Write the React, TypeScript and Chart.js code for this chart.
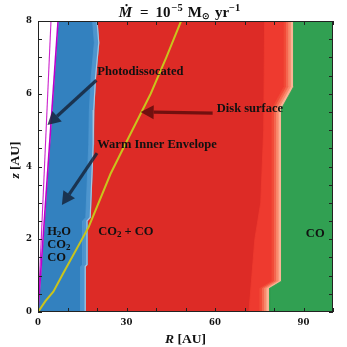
import React, { useEffect, useRef } from "react";
import { Chart, registerables } from "chart.js";

Chart.register(...registerables);

// ---- axes ----
const rMin = 0;
const rMax = 100;
const zMin = 0;
const zMax = 8;
const rTickLabels = [0, 30, 60, 90];
const zTickLabels = [0, 2, 4, 6, 8];
const rMinorTicks = [0, 10, 20, 30, 40, 50, 60, 70, 80, 90, 100];
const zMinorTicks = [0, 0.5, 1, 1.5, 2, 2.5, 3, 3.5, 4, 4.5, 5, 5.5, 6, 6.5, 7, 7.5, 8];

// ---- disk surface (yellow) ----
const surfaceR = [0, 2.5, 5.2, 8.6, 17.2, 24.6, 30.3, 38.2, 43.5, 48.5];
const surfaceZ = [0, 0.3, 0.56, 1.07, 2.34, 3.8, 4.73, 6.0, 7.0, 8];

// ---- magenta cavity lines ----
const innerLineR = [0, 4.4];
const innerLineZ = [0, 8];
const outerLineR = [0, 6.8];
const outerLineZ = [0, 8];

// ---- blue (H2O, CO2, CO ice) outer edge, top to bottom ----
const blueEdgeR = [20.0, 20.6, 19.5, 18.9, 18.7, 18.3, 17.7, 16.6, 16.6, 16.0, 16.0];
const blueEdgeZ = [8, 7.4, 6.45, 5.55, 4.6, 3.8, 2.6, 2.5, 1.3, 1.25, 0];

// ---- lighter red band, inner edge, top to bottom ----
const lightRedR = [76.8, 76.5, 75.5, 73.5, 72.5, 71.5];
const lightRedZ = [8, 5, 3, 2, 1, 0];

// ---- green (CO ice only) inner edge, top to bottom ----
const greenEdgeR = [86.7, 86.7, 82.6, 82.6, 78.5, 78.5];
const greenEdgeZ = [8, 6.2, 5.6, 0.85, 0.65, 0];

// ---- annotation arrows (start -> tip) ----
const photoArrowR = [19.8, 3.2];
const photoArrowZ = [6.37, 5.14];
const warmArrowR = [20.0, 8.1];
const warmArrowZ = [4.37, 2.94];
const diskArrowR = [59.2, 34.8];
const diskArrowZ = [5.47, 5.5];

const SERIF = "'Liberation Serif', 'Times New Roman', serif";
const TICK_SERIF = "'DejaVu Serif', serif";

const pts = (rs: number[], zs: number[]) => rs.map((r, i) => ({ x: r, y: zs[i] }));

type Seg = { t: string; size: number; italic?: boolean; dy?: number; gap?: number };

function App() {
  const ref = useRef<HTMLCanvasElement | null>(null);

  useEffect(() => {
    const canvas = ref.current;
    if (!canvas) return;

    const layers: any[] = [];
    const poly = (data: any[], color: string) =>
      layers.push({
        data,
        showLine: true,
        fill: "shape",
        backgroundColor: color,
        borderColor: color,
        borderWidth: 0.8,
        pointRadius: 0,
        pointHoverRadius: 0,
        tension: 0,
      });
    const line = (data: any[], color: string, width: number) =>
      layers.push({
        data,
        showLine: true,
        fill: false,
        backgroundColor: color,
        borderColor: color,
        borderWidth: width,
        pointRadius: 0,
        pointHoverRadius: 0,
        tension: 0,
      });

    const rightCap = [
      { x: rMax, y: zMin },
      { x: rMax, y: zMax },
    ];

    // background red (CO2 + CO ice)
    poly(
      [
        { x: rMin, y: zMin },
        { x: rMax, y: zMin },
        { x: rMax, y: zMax },
        { x: rMin, y: zMax },
      ],
      "#dd2b26"
    );
    // lighter red band
    poly([...pts(lightRedR, lightRedZ), ...rightCap], "#ee3a2f");
    // soft transition towards CO-only region
    const fade = [
      [3.2, "#f14b38"],
      [2.4, "#f56850"],
      [1.6, "#f98b6d"],
      [0.8, "#fcb396"],
    ] as const;
    fade.forEach(([d, c]) =>
      poly([...pts(greenEdgeR.map((r) => r - d), greenEdgeZ), ...rightCap], c)
    );
    // green CO region
    poly([...pts(greenEdgeR, greenEdgeZ), ...rightCap], "#31a052");
    // blue region
    poly([...pts(outerLineR, outerLineZ), ...pts(blueEdgeR, blueEdgeZ)], "#3381bf");
    // lighter blue strip at the edge
    poly(
      [
        ...pts(blueEdgeR.map((r) => r - 1.5), blueEdgeZ),
        ...pts([...blueEdgeR].reverse(), [...blueEdgeZ].reverse()),
      ],
      "#4d95ce"
    );
    line(pts(blueEdgeR, blueEdgeZ), "#a9c5de", 1.2);
    // white cavity
    poly(
      [
        { x: rMin, y: zMin },
        { x: outerLineR[1], y: outerLineZ[1] },
        { x: rMin, y: zMax },
      ],
      "#ffffff"
    );
    line(pts(innerLineR, innerLineZ), "#cc22cc", 1.1);
    line(pts(outerLineR, outerLineZ), "#bb00cc", 1.6);
    // disk surface
    line(pts(surfaceR, surfaceZ), "#c9c41c", 2);

    const n = layers.length;
    layers.forEach((l, i) => (l.order = n - i));

    const drawRich = (
      ctx: CanvasRenderingContext2D,
      segs: Seg[],
      x: number,
      y: number,
      align: "left" | "center"
    ) => {
      let total = 0;
      const widths = segs.map((s) => {
        ctx.font = `${s.italic ? "italic " : ""}bold ${s.size}px ${SERIF}`;
        const w = ctx.measureText(s.t).width;
        total += w + (s.gap || 0);
        return w;
      });
      let cx = align === "center" ? x - total / 2 : x;
      segs.forEach((s, i) => {
        cx += s.gap || 0;
        ctx.font = `${s.italic ? "italic " : ""}bold ${s.size}px ${SERIF}`;
        ctx.fillText(s.t, cx, y + (s.dy || 0));
        cx += widths[i];
      });
    };

    const decor = {
      id: "decor",
      afterDatasetsDraw(chart: any) {
        const { ctx, chartArea: a, scales } = chart;
        const xs = scales.x;
        const ys = scales.y;
        const px = (r: number) => xs.getPixelForValue(r);
        const py = (z: number) => ys.getPixelForValue(z);
        ctx.save();

        // arrows
        const arrow = (rs: number[], zs: number[], color: string) => {
          const x0 = px(rs[0]);
          const y0 = py(zs[0]);
          const x1 = px(rs[1]);
          const y1 = py(zs[1]);
          const ang = Math.atan2(y1 - y0, x1 - x0);
          const hl = 13;
          const hw = 7;
          const bx = x1 - hl * Math.cos(ang);
          const by = y1 - hl * Math.sin(ang);
          ctx.strokeStyle = color;
          ctx.fillStyle = color;
          ctx.lineWidth = 3.2;
          ctx.lineCap = "butt";
          ctx.beginPath();
          ctx.moveTo(x0, y0);
          ctx.lineTo(bx, by);
          ctx.stroke();
          ctx.beginPath();
          ctx.moveTo(x1, y1);
          ctx.lineTo(bx + hw * Math.sin(ang), by - hw * Math.cos(ang));
          ctx.lineTo(bx - hw * Math.sin(ang), by + hw * Math.cos(ang));
          ctx.closePath();
          ctx.fill();
        };
        arrow(photoArrowR, photoArrowZ, "rgba(22,38,60,0.85)");
        arrow(warmArrowR, warmArrowZ, "rgba(22,38,60,0.85)");
        arrow(diskArrowR, diskArrowZ, "rgba(95,12,12,0.85)");

        // labels
        ctx.fillStyle = "#111111";
        ctx.textBaseline = "middle";
        ctx.textAlign = "left";
        const big = 12.5;
        const sub = 9;
        drawRich(ctx, [{ t: "Photodissocated", size: big }], px(20.1), py(6.6), "left");
        drawRich(ctx, [{ t: "Warm Inner Envelope", size: big }], px(20.1), py(4.59), "left");
        drawRich(ctx, [{ t: "Disk surface", size: big }], px(60.6), py(5.6), "left");
        drawRich(ctx, [{ t: "H", size: big }, { t: "2", size: sub, dy: 3 }, { t: "O", size: big }], px(3.1), py(2.2), "left");
        drawRich(ctx, [{ t: "CO", size: big }, { t: "2", size: sub, dy: 3 }], px(3.1), py(1.84), "left");
        drawRich(ctx, [{ t: "CO", size: big }], px(3.1), py(1.5), "left");
        drawRich(
          ctx,
          [{ t: "CO", size: big }, { t: "2", size: sub, dy: 3 }, { t: " + CO", size: big }],
          px(20.4),
          py(2.2),
          "left"
        );
        drawRich(ctx, [{ t: "CO", size: big }], px(90.8), py(2.14), "left");

        // frame
        ctx.strokeStyle = "#222222";
        ctx.lineWidth = 1;
        ctx.strokeRect(a.left + 0.5, a.top + 0.5, a.right - a.left - 1, a.bottom - a.top - 1);
        // inward ticks on all sides
        const tl = 4;
        ctx.beginPath();
        rMinorTicks.forEach((r) => {
          const x = Math.round(px(r)) + 0.5;
          ctx.moveTo(x, a.bottom);
          ctx.lineTo(x, a.bottom - tl);
          ctx.moveTo(x, a.top);
          ctx.lineTo(x, a.top + tl);
        });
        zMinorTicks.forEach((z) => {
          const y = Math.round(py(z)) + 0.5;
          ctx.moveTo(a.left, y);
          ctx.lineTo(a.left + tl, y);
          ctx.moveTo(a.right, y);
          ctx.lineTo(a.right - tl, y);
        });
        ctx.stroke();
        ctx.restore();
      },
      afterDraw(chart: any) {
        const { ctx, chartArea: a } = chart;
        ctx.save();
        ctx.fillStyle = "#111111";
        ctx.textBaseline = "alphabetic";
        ctx.textAlign = "left";
        const cx = (a.left + a.right) / 2;
        // title
        drawRich(
          ctx,
          [
            { t: "Ṁ", size: 15, italic: true },
            { t: "=", size: 15, gap: 8 },
            { t: "10", size: 15, gap: 7 },
            { t: "−5", size: 10.5, dy: -6, gap: 1 },
            { t: "M", size: 15, gap: 5 },
            { t: "⊙", size: 9, dy: 2.5 },
            { t: "yr", size: 15, gap: 5 },
            { t: "−1", size: 10.5, dy: -6 },
          ],
          cx - 6,
          16.7,
          "center"
        );
        // x axis title
        drawRich(
          ctx,
          [
            { t: "R", size: 13.5, italic: true },
            { t: " [AU]", size: 13.5 },
          ],
          cx,
          343,
          "center"
        );
        // y axis title
        ctx.translate(19, 160);
        ctx.rotate(-Math.PI / 2);
        drawRich(
          ctx,
          [
            { t: "z", size: 13.5, italic: true },
            { t: " [AU]", size: 13.5 },
          ],
          0,
          0,
          "center"
        );
        ctx.restore();
      },
    };

    const tickFont = { family: TICK_SERIF, size: 8.5, weight: "bold" as const };

    const chart = new Chart(canvas, {
      type: "scatter",
      data: { datasets: layers },
      options: {
        animation: false,
        responsive: false,
        events: [],
        layout: { padding: { top: 21, right: 14, left: 0, bottom: 0 } },
        plugins: {
          legend: { display: false },
          tooltip: { enabled: false },
          title: { display: false },
          filler: { propagate: false, drawTime: "beforeDatasetDraw" },
        } as any,
        scales: {
          x: {
            type: "linear",
            min: rMin,
            max: rMax,
            grid: { display: false, drawTicks: false },
            border: { display: false },
            ticks: {
              stepSize: 30,
              includeBounds: false,
              autoSkip: false,
              maxRotation: 0,
              padding: 6,
              color: "#111111",
              font: tickFont,
              callback: (v: any) => (rTickLabels.includes(Number(v)) ? String(v) : ""),
            },
            afterFit: (s: any) => {
              s.height = 35;
            },
          },
          y: {
            type: "linear",
            min: zMin,
            max: zMax,
            grid: { display: false, drawTicks: false },
            border: { display: false },
            ticks: {
              stepSize: 2,
              autoSkip: false,
              padding: 6,
              color: "#111111",
              font: tickFont,
              callback: (v: any) => (zTickLabels.includes(Number(v)) ? String(v) : ""),
            },
            afterFit: (s: any) => {
              s.width = 38;
            },
          },
        },
      } as any,
      plugins: [decor],
    });

    return () => chart.destroy();
  }, []);

  return (
    <div style={{ position: "fixed", left: 0, top: 0, width: 347, height: 347, background: "#ffffff" }}>
      <canvas ref={ref} width={347} height={347} style={{ width: 347, height: 347, display: "block" }} />
    </div>
  );
}

export default App;
